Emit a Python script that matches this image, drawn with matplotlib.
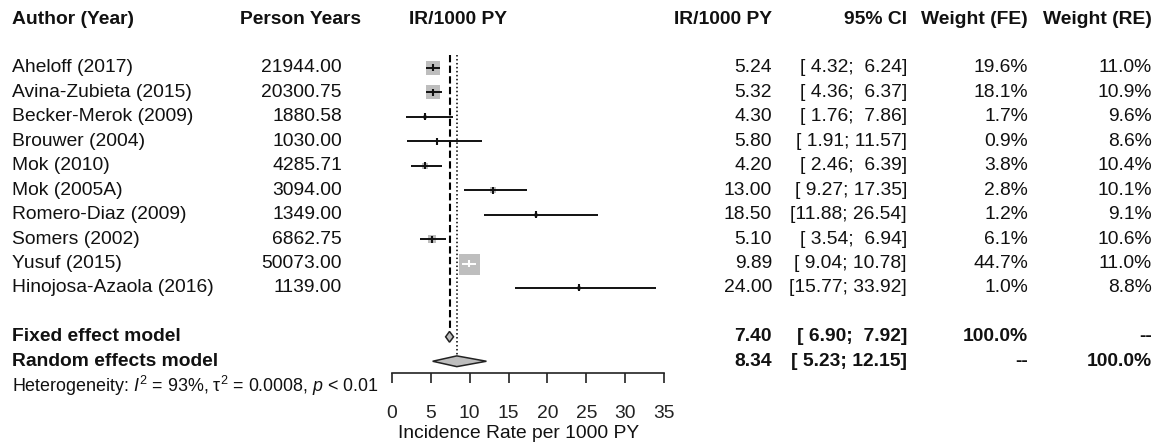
import matplotlib
matplotlib.use("Agg")
import matplotlib.pyplot as plt
from matplotlib import transforms
import numpy as np

plt.rcParams['font.family'] = ['Liberation Sans', 'DejaVu Sans']
plt.rcParams['mathtext.fontset'] = 'custom'
plt.rcParams['mathtext.rm'] = 'Liberation Sans'
plt.rcParams['mathtext.it'] = 'Liberation Sans:italic'
plt.rcParams['mathtext.bf'] = 'Liberation Sans:bold'

# ---------------- data ----------------
studies = ["Aheloff (2017)", "Avina-Zubieta (2015)", "Becker-Merok (2009)", "Brouwer (2004)",
           "Mok (2010)", "Mok (2005A)", "Romero-Diaz (2009)", "Somers (2002)",
           "Yusuf (2015)", "Hinojosa-Azaola (2016)"]
person_years = [21944.00, 20300.75, 1880.58, 1030.00, 4285.71, 3094.00, 1349.00, 6862.75, 50073.00, 1139.00]
ir = [5.24, 5.32, 4.30, 5.80, 4.20, 13.00, 18.50, 5.10, 9.89, 24.00]
ci_lo = [4.32, 4.36, 1.76, 1.91, 2.46, 9.27, 11.88, 3.54, 9.04, 15.77]
ci_hi = [6.24, 6.37, 7.86, 11.57, 6.39, 17.35, 26.54, 6.94, 10.78, 33.92]
weight_fe = [19.6, 18.1, 1.7, 0.9, 3.8, 2.8, 1.2, 6.1, 44.7, 1.0]
weight_re = [11.0, 10.9, 9.6, 8.6, 10.4, 10.1, 9.1, 10.6, 11.0, 8.8]

fixed_est, fixed_lo, fixed_hi = 7.40, 6.90, 7.92
random_est, random_lo, random_hi = 8.34, 5.23, 12.15

x_ticks = [0, 5, 10, 15, 20, 25, 30, 35]
x_label = "Incidence Rate per 1000 PY"
hetero = r"Heterogeneity: $I^2$ = 93%, τ$^2$ = 0.0008, $p$ < 0.01"

# ---------------- layout ----------------
W, H = 1159, 445
fig = plt.figure(figsize=(W / 100, H / 100), dpi=100)
FS = 13.9

row0_px, row_step = 19.1, 24.44          # pixel y of header row, row spacing
def row_at(p):
    return (p - row0_px) / row_step

ax_left, ax_right, ax_bottom_px = 392, 664, 373
ax = fig.add_axes([ax_left / W, 1 - ax_bottom_px / H, (ax_right - ax_left) / W, ax_bottom_px / H])
ax.set_xlim(0, 35)
ax.set_ylim(row_at(ax_bottom_px), row_at(0))
for s in ['top', 'right', 'left']:
    ax.spines[s].set_visible(False)
ax.spines['bottom'].set_linewidth(1.2)
ax.spines['bottom'].set_color('#222222')
ax.set_yticks([])
ax.set_xticks(x_ticks)
ax.set_xticklabels([str(t) for t in x_ticks], fontsize=FS, color='#222222')
ax.tick_params(axis='x', direction='out', length=7.2, width=1.2, pad=15.5, color='#222222')
ax.patch.set_alpha(0)

px_per_unit = (ax_right - ax_left) / 35.0
study_rows = np.arange(len(studies)) + 2
fixed_row, random_row, het_row = 13, 14, 15

max_side_px = 21.0
maxw = max(weight_fe)
for r, est, lo, hi, w in zip(study_rows, ir, ci_lo, ci_hi, weight_fe):
    side_px = max_side_px * np.sqrt(w / maxw)
    ax.plot([est], [r], marker='s', markersize=side_px * 0.72, color='#BEBEBE',
            markeredgewidth=0, linestyle='none', zorder=2, clip_on=False)
    hw = side_px / 2 / px_per_unit
    inside = (lo > est - hw) and (hi < est + hw)
    col = 'white' if inside else '#111111'
    ax.plot([lo, hi], [r, r], color=col, lw=1.4, zorder=3, solid_capstyle='butt', clip_on=False)
    ax.plot([est, est], [r - 3.5 / row_step, r + 3.5 / row_step], color=col, lw=1.5, zorder=3,
            solid_capstyle='butt', clip_on=False)

dh = 0.22
for row, est, lo, hi in [(fixed_row, fixed_est, fixed_lo, fixed_hi),
                         (random_row, random_est, random_lo, random_hi)]:
    ax.fill([lo, est, hi, est], [row, row - dh, row, row + dh], facecolor='#BEBEBE',
            edgecolor='#222222', lw=1.1, zorder=3, clip_on=False)

top_row = row_at(55)
ax.plot([fixed_est, fixed_est], [top_row, fixed_row - dh], color='black', lw=1.5,
        dashes=(3.5, 1.6), zorder=1)
ax.plot([random_est, random_est], [top_row, random_row - dh], color='black', lw=1.1,
        dashes=(1.0, 1.6), zorder=1)

# ---------------- text columns ----------------
tr = transforms.blended_transform_factory(fig.transFigure, ax.transData)
def put(xpx, row, s, ha='left', bold=False, fs=FS):
    fig.text(xpx / W, row, s, transform=tr, ha=ha, va='center', fontsize=fs,
             fontweight='bold' if bold else 'normal', color='#111111')

# headers
put(12, 0, "Author (Year)", bold=True)
put(301, 0, "Person Years", ha='center', bold=True)
put(458, 0, "IR/1000 PY", ha='center', bold=True)
put(772, 0, "IR/1000 PY", ha='right', bold=True)
put(907, 0, "95% CI", ha='right', bold=True)
put(1028, 0, "Weight (FE)", ha='right', bold=True)
put(1152, 0, "Weight (RE)", ha='right', bold=True)

for r, name, py, est, lo, hi, wf, wr in zip(study_rows, studies, person_years, ir, ci_lo,
                                             ci_hi, weight_fe, weight_re):
    put(12, r, name)
    put(342, r, f"{py:.2f}", ha='right')
    put(772, r, f"{est:.2f}", ha='right')
    put(907, r, f"[{lo:5.2f}; {hi:5.2f}]", ha='right')
    put(1028, r, f"{wf:.1f}%", ha='right')
    put(1152, r, f"{wr:.1f}%", ha='right')

put(12, fixed_row, "Fixed effect model", bold=True)
put(772, fixed_row, f"{fixed_est:.2f}", ha='right', bold=True)
put(907, fixed_row, f"[{fixed_lo:5.2f}; {fixed_hi:5.2f}]", ha='right', bold=True)
put(1028, fixed_row, "100.0%", ha='right', bold=True)
put(1152, fixed_row, "--", ha='right', bold=True)

put(12, random_row, "Random effects model", bold=True)
put(772, random_row, f"{random_est:.2f}", ha='right', bold=True)
put(907, random_row, f"[{random_lo:5.2f}; {random_hi:5.2f}]", ha='right', bold=True)
put(1028, random_row, "--", ha='right', bold=True)
put(1152, random_row, "100.0%", ha='right', bold=True)

put(12, het_row, hetero, fs=12.9)

fig.text(519 / W, 1 - 434 / H, x_label, ha='center', va='center', fontsize=FS, color='#111111')

fig.savefig("out.png", dpi=100, facecolor='white')
